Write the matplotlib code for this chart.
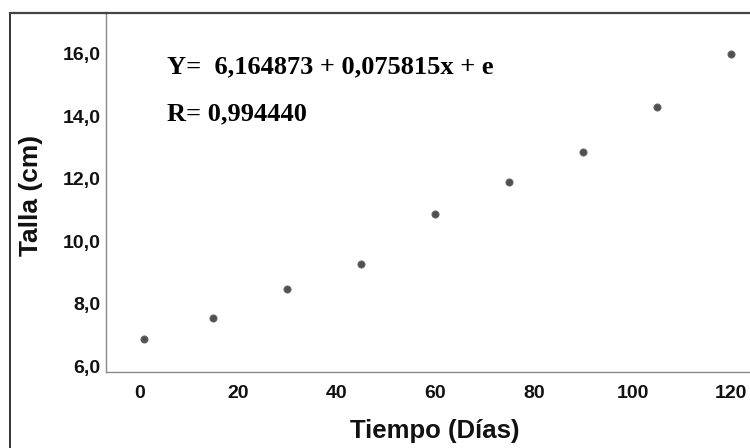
import matplotlib
matplotlib.use("Agg")
import matplotlib.pyplot as plt
from matplotlib.lines import Line2D

# data
dias = [1, 15, 30, 45, 60, 75, 90, 105, 120]
talla = [6.86, 7.56, 8.46, 9.27, 10.88, 11.88, 12.87, 14.29, 15.99]

x_ticks = [0, 20, 40, 60, 80, 100, 120]
y_ticks = [6, 8, 10, 12, 14, 16]
y_tick_labels = ["6,0", "8,0", "10,0", "12,0", "14,0", "16,0"]

eq_text = "Y=  6,164873 + 0,075815x + e"
r_text = "R= 0,994440"

W, H = 750, 448
fig = plt.figure(figsize=(7.5, 4.48), dpi=100)

# plot area runs off the right edge like in the cropped screenshot
ax_w = W * 1.02 - 106
ax = fig.add_axes([106 / W, (H - 372) / H, ax_w / W, (372 - 13) / H])
ax.scatter(dias, talla, s=27, color="#505050", edgecolors="#6a6a6a", linewidths=0.6, zorder=3)

ax.set_xlim(-6.8, -6.8 + ax_w / 4.93)
ax.set_ylim(5.82, 17.3)
ax.set_xticks(x_ticks)
ax.set_yticks(y_ticks)
ax.set_yticklabels(y_tick_labels)
ax.tick_params(length=0, labelsize=14)
ax.tick_params(axis="x", pad=9)
ax.tick_params(axis="y", pad=4)
for lab in ax.get_xticklabels() + ax.get_yticklabels():
    lab.set_fontweight("bold")
    lab.set_family("Liberation Sans")
    lab.set_color("#111111")

for side in ["left", "bottom"]:
    ax.spines[side].set_color("#8a8a8a")
    ax.spines[side].set_linewidth(1.0)
ax.spines["top"].set_color("#444444")
ax.spines["top"].set_linewidth(1.6)
ax.spines["right"].set_visible(False)

ax.set_xlabel("Tiempo (Días)", fontsize=18.5, fontweight="bold", family="Liberation Sans", color="#111111")
ax.set_ylabel("Talla (cm)", fontsize=19, fontweight="bold", family="Liberation Sans", color="#111111")
ax.xaxis.set_label_coords((435 - 106) / ax_w, (372 - 419) / 359)
ax.yaxis.set_label_coords((43 - 106) / ax_w, (372 - 195) / 359)

# outer chart frame (left edge; top edge is shared with the plot area)
fig.add_artist(Line2D([10 / W, 10 / W], [-0.05, (H - 13) / H], color="#333333", lw=1.4))
fig.add_artist(Line2D([10 / W, 106 / W], [(H - 13) / H, (H - 13) / H], color="#444444", lw=1.6))

fig.text(167 / W, (H - 73) / H, eq_text, fontsize=19, fontweight="bold", family="Liberation Serif", va="baseline")
fig.text(167 / W, (H - 120) / H, r_text, fontsize=19, fontweight="bold", family="Liberation Serif", va="baseline")

fig.savefig("out.png", dpi=100)
